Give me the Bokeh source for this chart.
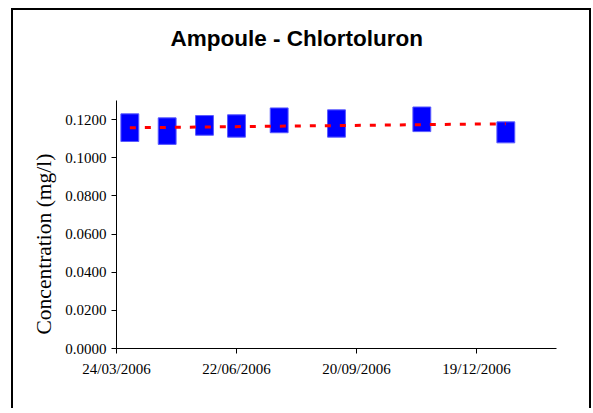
from datetime import datetime
from bokeh.plotting import figure
from bokeh.models import (Range1d, FixedTicker, NumeralTickFormatter, DatetimeTickFormatter,
                          Title, ColumnDataSource, LinearAxis)
from bokeh.embed import file_html
from bokeh.resources import INLINE

# ---- data ----
dates = ["2006-04-03", "2006-05-01", "2006-05-29", "2006-06-22",
         "2006-07-24", "2006-09-05", "2006-11-08", "2007-01-10"]
conc_high = [0.1230, 0.1209, 0.1221, 0.1225, 0.1261, 0.1251, 0.1266, 0.1188]
conc_low = [0.1085, 0.1070, 0.1118, 0.1108, 0.1131, 0.1108, 0.1137, 0.1078]
trend_start_end = [0.1157, 0.1178]
tick_dates = ["2006-03-24", "2006-06-22", "2006-09-20", "2006-12-19"]
x_limits = ["2006-03-24", "2007-02-17"]
y_ticks = [0.0, 0.02, 0.04, 0.06, 0.08, 0.10, 0.12]
title_text = "Ampoule  - Chlortoluron"
y_label = "Concentration (mg/l)"


def ms(d):
    return datetime.strptime(d, "%Y-%m-%d").timestamp() * 1000.0


DAY = 86400000.0
xs = [ms(d) for d in dates]

W, H = 580, 400
p = figure(width=W, height=H, output_backend="svg", toolbar_location=None,
           x_axis_type="datetime",
           x_range=Range1d(ms(x_limits[0]), ms(x_limits[1])),
           y_range=Range1d(0, 0.13),
           min_border_left=103, min_border_right=37,
           min_border_top=90, min_border_bottom=62)
p.margin = (8, 0, 0, 11)
p.styles = {"border-left": "2px solid #000000",
            "border-top": "2px solid #000000",
            "border-right": "2px solid #000000"}
p.background_fill_color = "white"
p.border_fill_color = "white"
p.outline_line_color = None
p.xgrid.visible = False
p.ygrid.visible = False

src = ColumnDataSource(dict(x=xs, top=conc_high, bottom=conc_low))
p.vbar(x="x", top="top", bottom="bottom", width=13.4 * DAY, source=src,
       fill_color="#0000FF", line_color="#5a5aff", line_width=1)

p.line(x=[xs[0], xs[-1]], y=trend_start_end, line_color="#FF0000",
       line_width=3, line_dash="6 9")

# axes
for ax in (p.xaxis[0], p.yaxis[0]):
    ax.axis_line_color = "#000000"
    ax.axis_line_width = 1
    ax.major_tick_line_color = "#000000"
    ax.major_tick_in = 0
    ax.major_tick_out = 5
    ax.minor_tick_line_color = None
    ax.major_label_text_font = "Liberation Serif"
    ax.major_label_text_color = "#000000"
    ax.major_label_text_font_size = "15px"

p.yaxis.ticker = FixedTicker(ticks=y_ticks)
p.yaxis.formatter = NumeralTickFormatter(format="0.0000")
p.yaxis.major_label_standoff = 5

p.xaxis.ticker = FixedTicker(ticks=[ms(d) for d in tick_dates])
fmt = "%d/%m/%Y"
p.xaxis.formatter = DatetimeTickFormatter(
    milliseconds=fmt, seconds=fmt, minsec=fmt, minutes=fmt, hourmin=fmt,
    hours=fmt, days=fmt, months=fmt, years=fmt)
p.xaxis.major_label_standoff = 7


def spacer(size, tick):
    # invisible axis used only to reserve empty space in a side panel
    return LinearAxis(ticker=FixedTicker(ticks=[tick]), axis_line_color=None,
                      major_tick_line_color=None, minor_tick_line_color=None,
                      major_tick_in=0, major_tick_out=size, minor_tick_in=0,
                      minor_tick_out=0, major_label_standoff=0,
                      major_label_overrides={tick: ""},
                      major_label_text_font_size="0px")


# empty gaps between frame and title / y label
p.add_layout(spacer(47, xs[0]), "above")
p.add_layout(spacer(3, y_ticks[1]), "left")

# title
p.title = Title(text=title_text, align="left", offset=54, standoff=6,
                text_font="Liberation Sans", text_font_style="bold",
                text_font_size="22.5px", text_color="#000000")

# y label as a left-side title
p.add_layout(Title(text=y_label, align="left", offset=14, standoff=8,
                   text_font="Liberation Serif", text_font_style="normal",
                   text_font_size="21.5px", text_color="#000000"), "left")

open("out.html", "w").write(file_html(p, INLINE))
